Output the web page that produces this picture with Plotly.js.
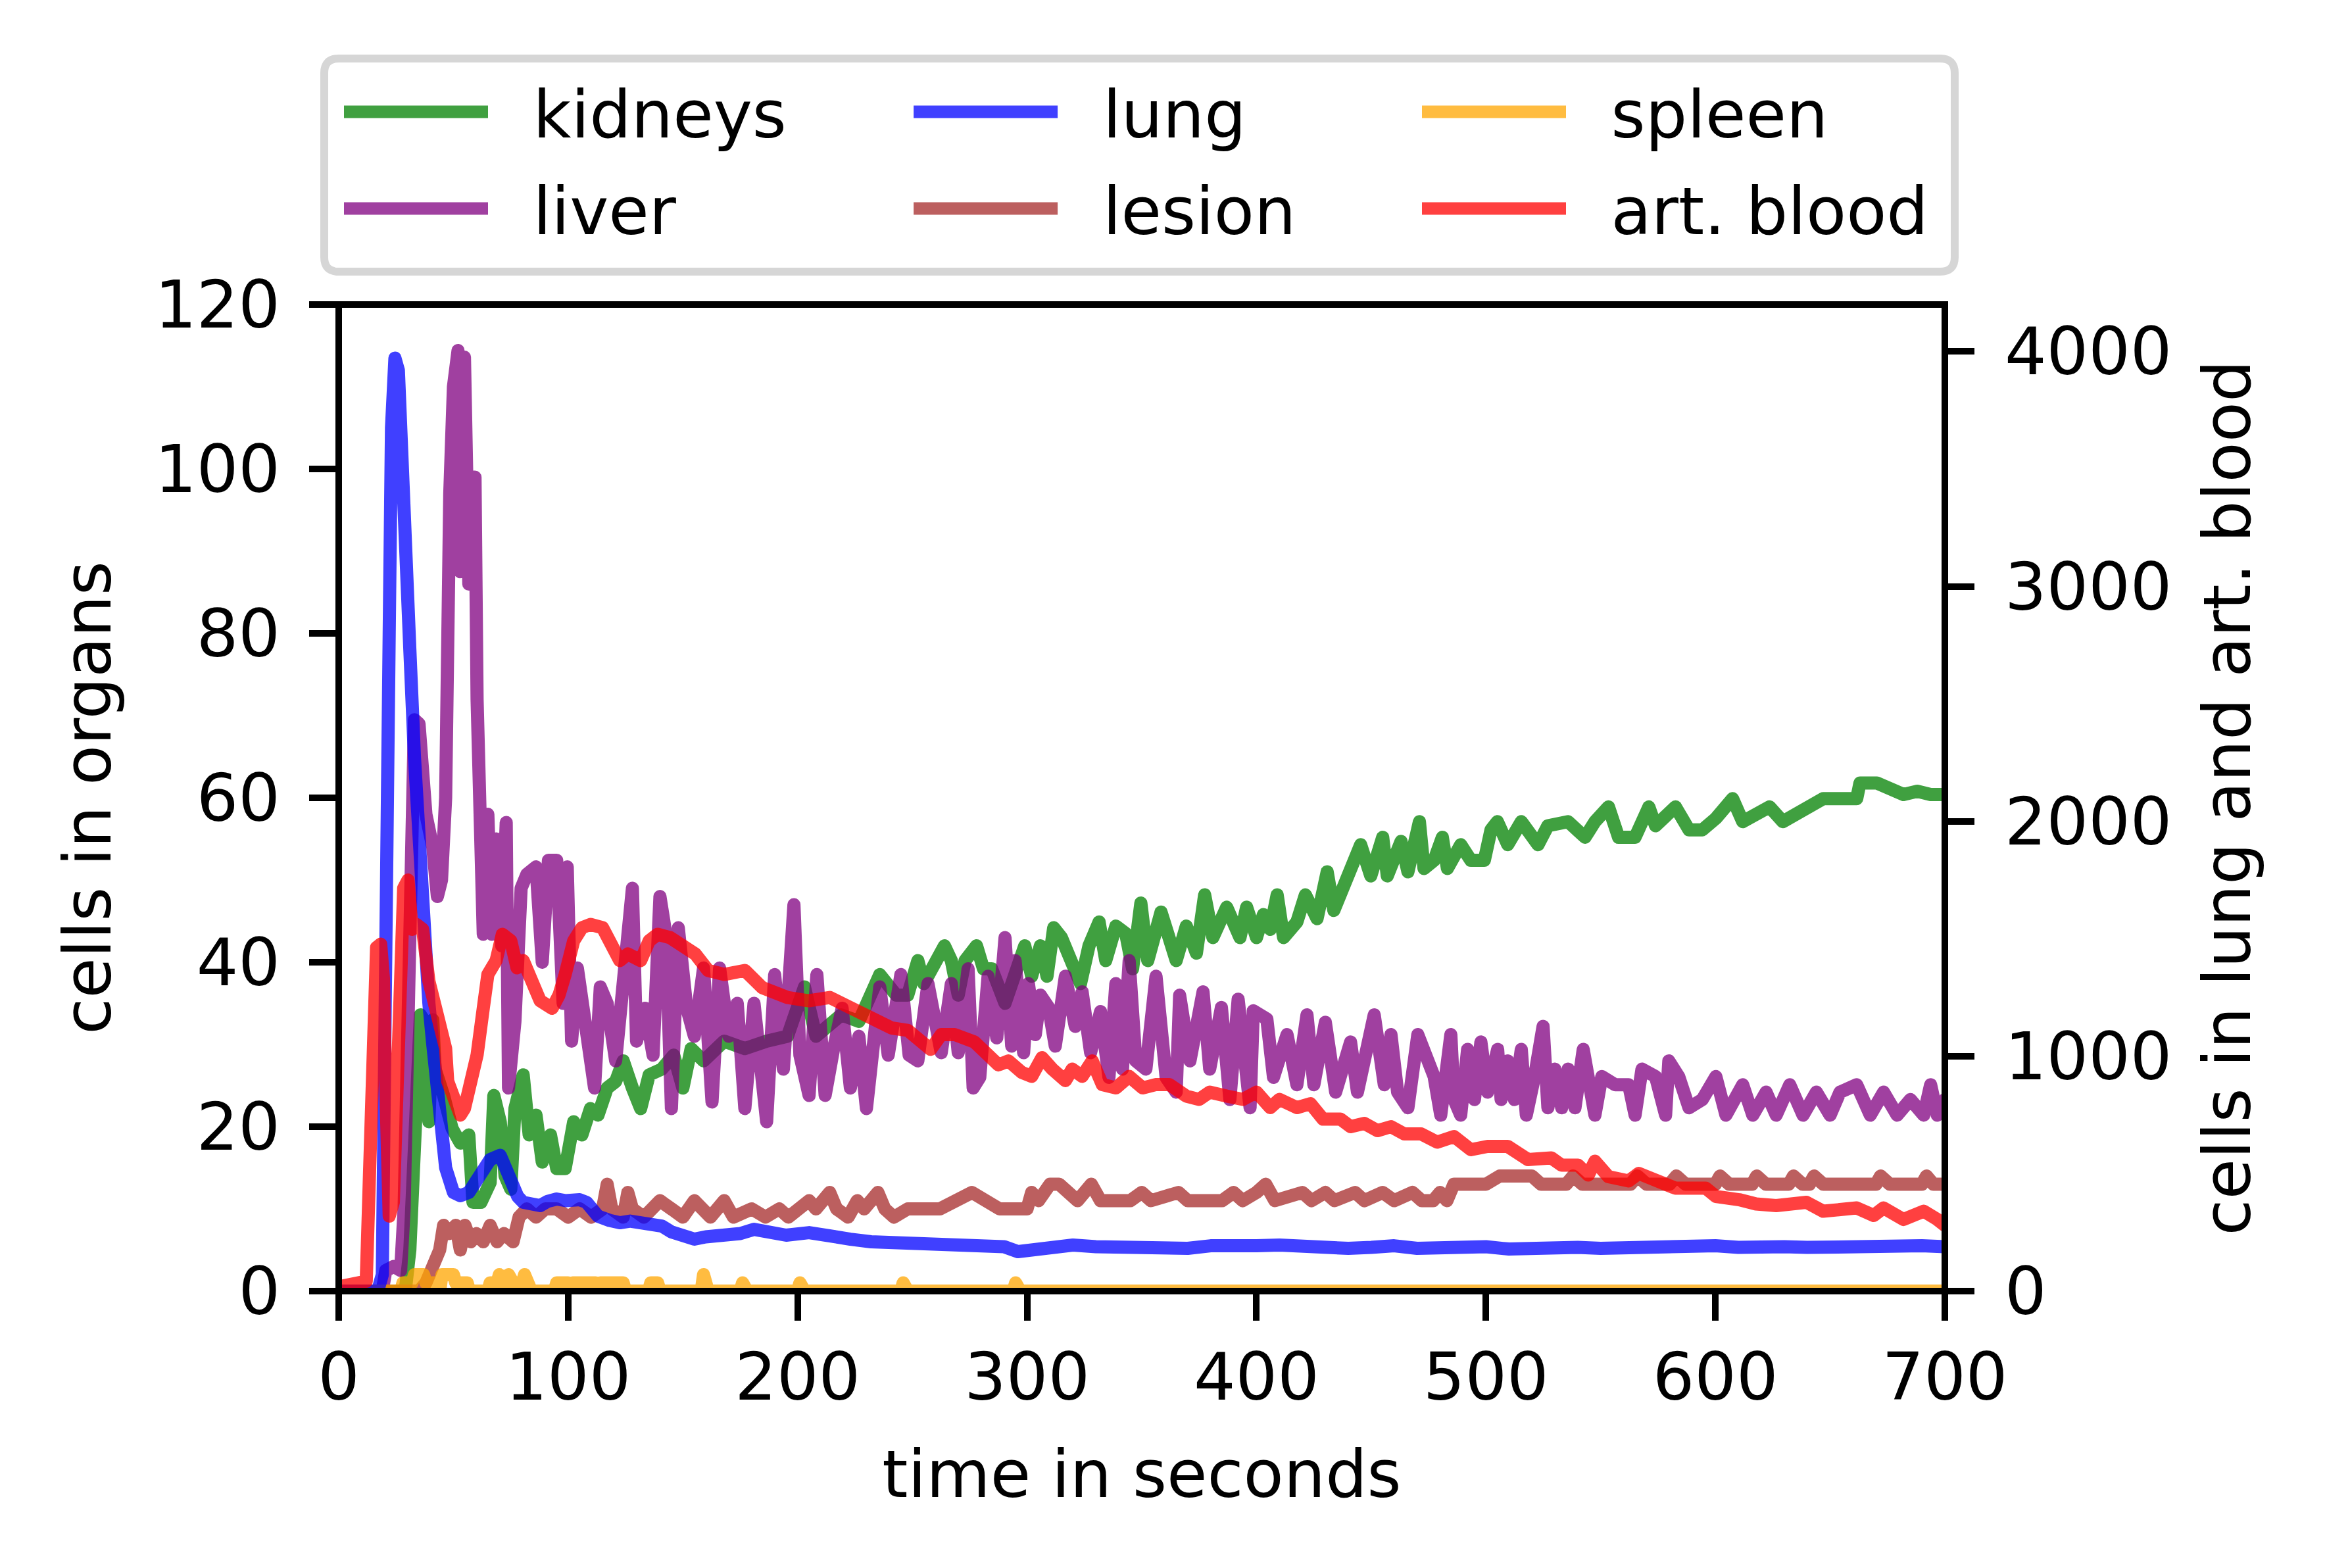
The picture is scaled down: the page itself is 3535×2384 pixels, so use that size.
<!DOCTYPE html>
<html>
<head>
<meta charset="utf-8">
<script src="https://cdn.plot.ly/plotly-3.0.1.min.js"></script>
<style>
html,body{margin:0;padding:0;background:#fff;}
#chart{width:3535px;height:2384px;}
.scatterlayer path.js-line{vector-effect:none !important;stroke-linejoin:round;stroke-linecap:round;stroke-width:20px !important;}
.legendlines path.js-line{stroke-width:19px !important;}
</style>
</head>
<body>
<div id="chart"></div>
<script>
// ---------------- data ----------------
const kidneysT = [0,29,31,33,34.7,35.6,37.5,39.3,41,42,
 45.7,49.4,53,56.7,58.5,62,66,67.6,70.4,72.5,
 75,76.8,80.4,83,86,88.7,92.3,95,98.7,102.4,
 106,109.7,113,117,120.7,124,128,131.6,135.3,140.8,
 146,150,153.6,159,168,177,186.5,195.6,203,208,
 219,226.7,235.8,243,248,252.4,255,258,264,267,
 270,273,278,281,284.6,290.4,293,299,302,305.8,
 308.7,311.6,315,319.6,323.3,327,331.4,334.3,338.7,343,
 346,349.6,352.6,358.4,361.3,365,369.4,373.8,377.4,381,
 387,392.8,395.7,400,403,406,409,411.8,417.6,421.3,
 426.4,430.8,433.7,438,442.5,445.4,449.8,455,457,463,
 466,471,473,477.4,481,483.2,489,493.4,499.3,502.2,
 505,509.5,515.4,522.7,527,535.8,543.2,547.5,553.4,557.8,
 565,571,573.9,582.6,588.5,594.3,600.2,607.5,611.9,623.6,
 629.4,639.7,647,661.6,663,670.4,676.2,682,688,693.8,
 700];
const kidneysV = [0,0,5,20,28,33.6,32.8,20.6,33,27,
 23.8,19.8,18,19,10.8,10.8,13.2,23.8,20.6,14,
 12.4,22.2,26.3,19,21.4,15.7,19,14.9,14.9,20.6,
 19,22.2,21.4,24.7,25.5,28,24.7,22.2,26.3,27,
 28.7,24.7,29.5,28,30.4,29.5,30.4,31,37,31,
 33.6,32.8,38.5,36,36,40.2,37.4,39.2,42,40.2,
 36,40.2,42,39.2,39.2,35,37.4,42,38.3,42,
 38.3,44.2,43,40.2,37.4,42,44.9,40.2,44.4,43.5,
 39.2,47.2,40.2,46.1,43,40.2,44.4,41.1,48.2,43,
 46.7,43,46.7,43,45.8,44,48.2,43,44.9,48.2,
 45.3,51,46.3,49.1,51.9,54.3,50.5,55.2,50.5,54.7,
 51,57.1,51.4,52.4,55.2,51.4,54.3,52.4,52.4,56.1,
 57.1,54.3,57.1,54.3,56.6,57.1,55.2,57.1,58.9,55.2,
 55.2,58.9,56.6,58.9,56.1,56.1,57.5,59.9,57.1,58.9,
 57.1,58.9,59.9,59.9,61.8,61.8,61.3,60.4,60.8,60.4,
 60.4];

const liverT = [0,19,20.5,24,27,28.5,30,31.5,33,35,
 36.5,38,41,43,44.8,46.6,48.4,50,52,53,
 54.8,56.7,57.6,59.4,60.3,62,63,65,66.7,68.6,
 71,73,74,76.8,79.5,82,86,88.7,91.4,95,
 97.8,99.6,101.5,104,108,111.5,114,117,120.7,124,
 128,129.8,133.5,137,140,142.6,145,148,151.7,155,
 159,162.7,166,170,173.7,177,181,186.5,190,193.8,
 198.4,201,205,208.4,212,215.7,219.4,223,226.7,230,
 235.8,239.5,245,248.6,252.4,256.8,262.6,267,270,274.3,
 276.5,279.4,283,286.8,290.4,293.3,294.8,298.5,300.6,303.6,
 305.8,309.4,312.3,316.7,321,324,327.7,332,335.7,338.7,
 341.6,344.5,347.4,351.8,356.2,360.6,365,366.5,371,376.7,
 379.6,384.7,388.4,392,397.2,398.6,404.5,407.4,413.3,417.6,
 422,425,430,434.5,441,444,451.3,455.7,458.6,461.5,
 466,470.3,474.4,477.4,480.3,484.7,486.1,489,492,495,
 497.8,500.7,505.1,506.6,509.5,512.4,515.4,517.6,521.2,524.9,
 527,530,533,535.8,538.8,542.4,547.5,550.5,556.3,562.2,
 565,568,573.9,578.3,579.7,584,588.5,594.3,600.2,604.6,
 611.9,616.3,622.1,626.5,632.4,638.2,644,650,654.3,661.6,
 667.5,673.3,679.2,685,690.8,693.8,696.7,700];
const liverV = [0,0,2.5,3,2.5,10,30,50,69.5,69,
 62,58,54,48,50,60,97,110,114.4,87.5,
 113.6,86,99,99,72,60,43.4,58,43.4,55,
 42,57,24.7,32.8,49,50.7,51.6,40,52.4,52.4,
 35,51.6,30.4,39.3,30.4,24.7,37,35,28,38.5,
 49,30.4,34.4,28.7,48,43.4,22.2,44.2,34.4,31,
 39.3,23,39.3,31,35,22.2,35,20.6,38.5,27,
 47,28.7,23.8,38.5,23.8,29.5,34.4,24.7,31,22.2,
 37,28.7,38.5,28.7,28,37.4,29,37.4,29,39.2,
 24.7,26,38.3,30.8,43,29.8,40.2,29,37.4,31.2,
 36,34.5,29.8,38.3,32.2,36.4,29,34,26,37.4,
 27,40.2,28,27,38.3,26,24.2,36,28,36.4,
 27,34.5,23.3,35.5,22.3,34.1,33.1,26,31.2,25.1,
 33.6,25.1,32.7,24.2,30.3,24.2,33.6,25.1,31.2,24.2,
 22.3,31.2,28,26.1,21.4,31.2,23.3,21.4,29.4,23.3,
 30.3,24.2,29.4,23.3,28,23.3,29.4,21.4,26.1,32.2,
 22.3,27,22.3,27,22.3,29.4,21.4,26.1,25.1,25.1,
 21.4,27,26.1,21.4,28,26.1,22.3,23.3,26.1,21.4,
 25.1,21.4,24.2,21.4,25.1,21.4,24.2,21.4,24.2,25.1,
 21.4,24.2,21.4,23.3,21.4,25.1,21.4,23.3];

const lesionT = [0,35,38,40,42,44,45.7,48,51,53,
 55,57.6,60,63,66,69,72,76,78.6,82,
 86,90,95,100,105,110,115,117,119,124,
 126,128,133,137,140,145,150,155,158,162,
 165,168,172,180,186,192,196,200,205,208,
 214,217,222,226,229,235,238,242,248,255,
 262,276,282,288,300,302,305,310,314,318,
 322,328,332,345,350,354,366,370,385,390,
 394,400,404,408,420,424,430,434,443,447,
 455,460,468,472,477,480,483,486,500,506,
 520,524,535,538,542,563,566,570,580,583,
 587,600,602,606,616,618,622,632,634,638,
 641,643,647,670,672,676,690,692,695,700];
const lesionV = [0,0,1,2.5,4,5,8,7,8,5,
 8,6,7,6,8,6,7,6,9,10,
 9,10,10,9,10,9,10,13,10,9,
 12,10,9,10,11,10,9,11,10,9,
 10,11,9,10,9,10,9,10,11,10,
 12,10,9,11,10,12,10,9,10,10,
 10,12,11,10,10,12,11,13,13,12,
 11,13,11,11,12,11,12,11,11,12,
 11,12,13,11,12,11,12,11,12,11,
 12,11,12,11,11,12,11,13,13,14,
 14,13,13,14,13,13,14,13,13,14,
 13,13,14,13,13,14,13,13,14,13,
 13,14,13,13,14,13,13,14,13,13];

const spleenT = [0,27,28,32,33,37,38,43,44,45,
 50,51,56,57,65,66,69,70,72,74,
 76,80,81,82,84,94,95,100,101,102,
 112,113,114,124,125,135,136,139,140,158,
 159,160,161,175,176,178,200,201,203,245,
 246,248,294,295,297,700];
const spleenV = [0,0,1,1,2,2,1,1,0,2,
 2,1,1,0,0,1,1,2,1,2,
 1,1,2,1,0,0,1,1,0,1,
 1,0,1,1,0,0,1,1,0,0,
 2,1,0,0,1,0,0,1,0,0,
 1,0,0,1,0,0];

// right axis series (cells in lung and art. blood)
const lungT = [0,17,19,20.5,22,23,24.5,26,27.5,29,
 31,33,34.7,36.6,39.3,41,44,46.6,50,53,
 56.7,60,63,66,70.4,73,75,78,80.4,84,
 87.8,91,95,99,102.4,105,108,113,118,122.5,
 127,131.6,136,140.8,145,150,155,160,168,175,
 181,186.5,195,205,213,223,232,241,252,260,
 270,280,290,296,300,310,320,330,340,350,
 360,370,380,390,400,410,420,430,440,450,
 460,470,480,490,500,510,520,530,540,550,
 560,570,580,590,600,610,620,630,640,650,
 660,670,680,690,700];
const lungV = [0,0,70,1050,2800,3675,3972,3920,3640,3220,
 2730,2275,1960,1505,1225,1050,721,525,420,406,
 420,476,525,560,578,525,455,403,378,371,
 364,382,392,385,392,389,378,319,301,291,
 298,291,287,277,252,235,221,231,235,245,
 263,249,238,249,231,221,210,207,207,193,
 196,200,189,168,175,189,196,189,186,179,
 175,182,193,189,193,196,189,193,182,186,
 193,182,186,182,189,179,186,182,186,182,
 186,189,186,189,193,186,193,189,186,189,
 193,196,189,193,189];

const bloodT = [0,6,12,13.5,15,16.5,18.3,19.5,20.5,22,
 23.8,25,26.5,28.3,30.2,32,33.8,36.6,39.3,42,
 44.8,46.6,47.5,50,53,54.8,57.6,60.3,63,65,
 68.6,71.3,75,77.7,80.4,84,87.8,93,96,98.7,
 102.4,106,109.7,115,118.8,122.5,126,131.6,135.3,139,
 144.4,150,155.4,161,168,177,184.6,195.6,204.8,214,
 223,232,241,248,252.4,258,262.6,268.5,277,283,
 287.5,291.9,297.7,302,306.5,311,316.7,319.7,324,328.4,
 332.8,338.7,344.5,350.4,356,362,369.4,375,379.6,387,
 394,400,406,410,417.6,423.5,429,436.6,441,447,
 452.7,458.6,464.4,471.8,478.8,486.1,493.4,500.7,509.5,518.3,
 528.5,533,540.2,544.6,547.5,553.4,562.2,566.6,573.9,582.6,
 595.8,600.2,610.4,617.7,626.5,632.4,639.7,647,654.3,661.6,
 669,673.3,682,690.8,696.7,700];
const bloodV = [18,28,42,525,1225,1463,1477,1330,875,319,
 378,770,1225,1715,1750,1540,1561,1540,1320,1225,
 1085,1033,893,805,749,777,893,1005,1204,1348,
 1407,1519,1491,1376,1407,1320,1236,1204,1260,1348,
 1491,1547,1561,1547,1463,1407,1435,1407,1491,1519,
 1505,1477,1435,1365,1348,1365,1292,1250,1236,1250,
 1204,1162,1120,1110,1078,1029,1092,1092,1061,1012,
 963,980,931,914,994,945,896,945,914,980,
 879,865,914,865,879,879,830,816,847,830,
 816,847,781,816,781,798,732,732,700,714,
 683,700,669,669,634,658,602,616,616,560,
 567,536,536,494,553,487,469,501,476,438,
 438,403,389,371,364,371,378,340,347,354,
 322,354,305,340,305,280];

const xTickVals = [0,100,200,300,400,500,600,700];
const yTickVals = [0,20,40,60,80,100,120];
const y2TickVals = [0,1000,2000,3000,4000];

const seriesNames = ['kidneys','liver','lung','lesion','spleen','art. blood'];

// ---------------- styling ----------------
const FONT = 'DejaVu Sans';
const LW = 20;
const COLORS = {
  kidneys:'rgba(0,128,0,0.75)',
  liver:'rgba(128,0,128,0.75)',
  lung:'rgba(0,0,255,0.75)',
  lesion:'rgba(165,42,42,0.75)',
  spleen:'rgba(255,165,0,0.75)',
  blood:'rgba(255,0,0,0.75)'
};
const NB = '\u00a0\u00a0';

function tr(x, y, name, color, yaxis, legend) {
  return {
    type:'scatter', mode:'lines', x:x, y:y, name:NB + name,
    line:{color:color, width:LW}, yaxis:yaxis, legend:legend,
    hoverinfo:'skip'
  };
}

const data = [
  tr(kidneysT, kidneysV, seriesNames[0], COLORS.kidneys, 'y', 'legend'),
  tr(liverT, liverV, seriesNames[1], COLORS.liver, 'y', 'legend2'),
  tr(lesionT, lesionV, seriesNames[3], COLORS.lesion, 'y', 'legend4'),
  tr(spleenT, spleenV, seriesNames[4], COLORS.spleen, 'y', 'legend5'),
  tr(lungT, lungV, seriesNames[2], COLORS.lung, 'y2', 'legend3'),
  tr(bloodT, bloodV, seriesNames[5], COLORS.blood, 'y2', 'legend6')
];

function leg(xp, yp) {
  return {x:xp, y:yp, xanchor:'left', yanchor:'middle', orientation:'v',
    bgcolor:'rgba(0,0,0,0)', borderwidth:0, itemwidth:219,
    font:{family:FONT, size:100, color:'#000'}, itemclick:false, itemdoubleclick:false};
}
const col1 = 0.00123, col2 = 0.3559, col3 = 0.6724;
const row1 = 1.1953, row2 = 1.0973;

const axisCommon = {
  ticks:'outside', ticklen:44, tickwidth:10, tickcolor:'#000',
  showgrid:false, zeroline:false, showline:false,
  tickfont:{family:FONT, size:100, color:'#000'}
};

const layout = {
  width:3535, height:2384,
  margin:{l:515, r:578, t:463, b:421, pad:0},
  paper_bgcolor:'#ffffff', plot_bgcolor:'#ffffff',
  font:{family:FONT, size:100, color:'#000'},
  showlegend:true,
  xaxis:Object.assign({}, axisCommon, {
    range:[0,700], tickmode:'array', tickvals:xTickVals,
    title:{text:'time in seconds', font:{family:FONT, size:100, color:'#000'}, standoff:54}
  }),
  yaxis:Object.assign({}, axisCommon, {
    range:[0,120], tickmode:'array', tickvals:yTickVals, ticklabelstandoff:24,
    title:{text:'cells in organs', font:{family:FONT, size:100, color:'#000'}, standoff:33}
  }),
  yaxis2:Object.assign({}, axisCommon, {
    overlaying:'y', side:'right', ticklabelstandoff:26,
    range:[0,4200], tickmode:'array', tickvals:y2TickVals,
    title:{text:'cells in lung and art. blood', font:{family:FONT, size:100, color:'#000'}, standoff:49}
  }),
  legend:leg(col1,row1),
  legend2:leg(col1,row2),
  legend3:leg(col2,row1),
  legend4:leg(col2,row2),
  legend5:leg(col3,row1),
  legend6:leg(col3,row2),
  shapes:[
    {type:'path', xref:'paper', yref:'paper', layer:'below',
     path:'M0,1.24933 H0.99713 Q1.00614,1.24933 1.00614,1.23466 V1.048 Q1.00614,1.03333 0.99713,1.03333 H0 Q-0.00901,1.03333 -0.00901,1.048 V1.23466 Q-0.00901,1.24933 0,1.24933 Z',
     line:{color:'#d6d6d6', width:12}, fillcolor:'#ffffff'},
    {type:'rect', xref:'paper', yref:'paper', layer:'above',
     x0:0, x1:1, y0:0, y1:1, line:{color:'#000', width:10}, fillcolor:'rgba(0,0,0,0)'}
  ]
};

Plotly.newPlot('chart', data, layout, {displayModeBar:false, responsive:false, staticPlot:true});
</script>
</body>
</html>
